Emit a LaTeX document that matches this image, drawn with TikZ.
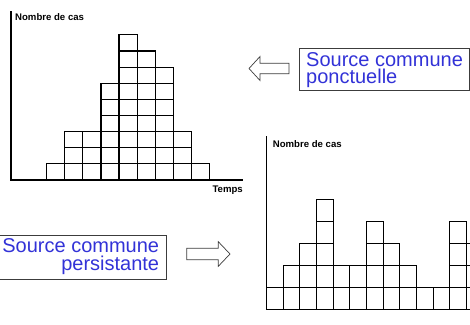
\documentclass[tikz,border=0pt]{standalone}
\usepackage{fontspec}
\setmainfont{Liberation Sans}
\definecolor{txtblue}{RGB}{50,50,215}
\definecolor{edgegray}{RGB}{60,60,60}
\begin{document}
\begin{tikzpicture}[x=1pt,y=-1pt,
  cell/.style={draw=black,line width=1.1pt},
  axisline/.style={draw=black,line width=1.5pt},
  title/.style={font=\fontsize{9.6}{11}\selectfont\bfseries,inner sep=0pt},
  srctext/.style={font=\fontsize{20}{17.3}\selectfont,text=txtblue,inner sep=0pt},
  srcbox/.style={draw=edgegray,line width=0.8pt},
  blockarrow/.style={draw=edgegray,line width=0.7pt,fill=white,line join=miter}]
\useasboundingbox (0,0) rectangle (470,324);
\clip (0,0) rectangle (470,324);

% ---------- top chart ----------
\def\tx{46.8}\def\tw{18.05}\def\tb{179.8}\def\th{16.1}
\foreach \h [count=\i from 0] in {1,3,3,6,9,8,7,3,1}{
  \foreach \r in {1,...,\h}{
    \draw[cell] ({\tx+\i*\tw},{\tb-(\r-1)*\th}) rectangle ({\tx+(\i+1)*\tw},{\tb-\r*\th});
  }
}
\coordinate (tO) at (11,179.8);
\coordinate (tY) at (11,11);
\coordinate (tX) at (243,179.8);
\draw[axisline] (tY) -- (tO) -- (tX);
\node[title,anchor=base west] (tTitle) at (15,20.7) {Nombre de cas};
\node[title,anchor=base east] (tTemps) at (243,192.7) {Temps};

% ---------- bottom chart ----------
\def\bx{266.5}\def\bw{16.67}\def\bb{309.6}\def\bh{21.95}
\foreach \h [count=\i from 0] in {1,2,3,5,2,2,4,3,2,1,1,4,3}{
  \foreach \r in {1,...,\h}{
    \draw[cell] ({\bx+\i*\bw},{\bb-(\r-1)*\bh}) rectangle ({\bx+(\i+1)*\bw},{\bb-\r*\bh});
  }
}
\coordinate (bO) at (266.5,309.6);
\coordinate (bY) at (266.5,136);
\coordinate (bX) at (475,309.6);
\draw[axisline] (bY) -- (bO) -- (bX);
\node[title,anchor=base west] (bTitle) at (272.7,147.3) {Nombre de cas};

% ---------- source boxes ----------
\draw[srcbox] (299.3,48.3) rectangle (469.2,90.7);
\node[srctext,anchor=base west] (ponct) at (306,66)
  {\vtop{\baselineskip=17.3pt\lineskiplimit=-50pt\halign{#\hfil\cr Source commune\cr ponctuelle\cr}}};

\draw[srcbox] (-2,235) rectangle (166.7,279);
\node[srctext,anchor=base east] (persist) at (159.3,252.7)
  {\vtop{\baselineskip=17.6pt\lineskiplimit=-50pt\halign{\hfil#\cr Source commune\cr persistante\cr}}};

% ---------- block arrows ----------
\draw[blockarrow] (249,68.5) -- (260,56.5) -- (260,63.2) -- (289,63.2) -- (289,73.8)
  -- (260,73.8) -- (260,80.5) -- cycle;
\draw[blockarrow] (230,254) -- (218.3,241.7) -- (218.3,248.3) -- (186.7,248.3) -- (186.7,259.8)
  -- (218.3,259.8) -- (218.3,266.3) -- cycle;
\end{tikzpicture}
\end{document}
